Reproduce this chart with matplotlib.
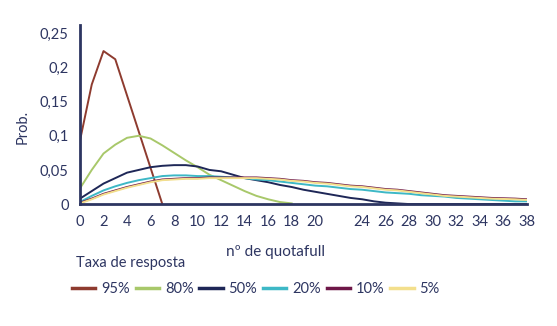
import matplotlib

matplotlib.use("Agg")
import matplotlib.pyplot as plt

plt.rcParams["font.family"] = ["Lato", "DejaVu Sans"]

# nº de quotafull (0..38) and probabilities per response rate
x = list(range(39))
p95 = [0.093, 0.175, 0.224, 0.212, 0.159, 0.106, 0.053, 0.0]
p80 = [0.023, 0.050, 0.074, 0.087, 0.097, 0.100, 0.096, 0.086, 0.075, 0.064,
       0.054, 0.043, 0.035, 0.027, 0.019, 0.012, 0.007, 0.003, 0.001]
p50 = [0.008, 0.019, 0.030, 0.038, 0.046, 0.050, 0.054, 0.056, 0.057, 0.057,
       0.055, 0.050, 0.048, 0.043, 0.038, 0.035, 0.032, 0.028, 0.025, 0.021,
       0.018, 0.015, 0.012, 0.009, 0.007, 0.004, 0.002, 0.001, 0.0, 0.0,
       0.0, 0.0, 0.0, 0.0, 0.0, 0.0, 0.0, 0.0, 0.0]
p20 = [0.003, 0.012, 0.020, 0.026, 0.031, 0.035, 0.038, 0.041, 0.042, 0.042,
       0.041, 0.041, 0.040, 0.039, 0.038, 0.036, 0.035, 0.033, 0.031, 0.029,
       0.027, 0.026, 0.024, 0.022, 0.021, 0.019, 0.017, 0.016, 0.015, 0.013,
       0.012, 0.011, 0.009, 0.008, 0.007, 0.006, 0.005, 0.004, 0.004]
p10 = [0.002, 0.008, 0.015, 0.020, 0.025, 0.029, 0.033, 0.036, 0.037, 0.038,
       0.038, 0.039, 0.039, 0.039, 0.039, 0.039, 0.038, 0.037, 0.035, 0.034,
       0.032, 0.031, 0.029, 0.027, 0.026, 0.024, 0.022, 0.021, 0.019, 0.017,
       0.015, 0.013, 0.012, 0.011, 0.010, 0.009, 0.0085, 0.008, 0.007]
p05 = [0.001, 0.007, 0.014, 0.019, 0.024, 0.028, 0.032, 0.035, 0.036, 0.037,
       0.037, 0.038, 0.038, 0.038, 0.038, 0.038, 0.037, 0.036, 0.034, 0.033,
       0.031, 0.030, 0.028, 0.026, 0.025, 0.023, 0.021, 0.020, 0.018, 0.016,
       0.014, 0.012, 0.011, 0.010, 0.009, 0.008, 0.0075, 0.007, 0.006]

series = [("95%", p95, "#8E3B2F"), ("80%", p80, "#A8C86A"),
          ("50%", p50, "#1E2757"), ("20%", p20, "#3DB8C6"),
          ("10%", p10, "#6E1748"), ("5%", p05, "#F3DF8C")]

xticks = [0, 2, 4, 6, 8, 10, 12, 14, 16, 18, 20, 24, 26, 28, 30, 32, 34, 36, 38]
yticks = [0, 0.05, 0.1, 0.15, 0.2, 0.25]

navy = "#2D3561"

fig = plt.figure(figsize=(5.57, 3.26), dpi=100)
ax = fig.add_axes([0.1436, 0.374, 0.8024, 0.549])

for name, vals, col in series:
    ax.plot(x[:len(vals)], vals, color=col, linewidth=1.4, label=name)

ax.set_xlim(0, 38)
ax.set_ylim(0, 0.262)
ax.set_xticks(xticks)
ax.set_xticklabels([str(v) for v in xticks])
ax.set_yticks(yticks)
ax.set_yticklabels([f"{v:g}".replace(".", ",") for v in yticks])
ax.tick_params(length=0, labelsize=10.5, colors=navy, pad=8)
for s in ["top", "right"]:
    ax.spines[s].set_visible(False)
for s in ["left", "bottom"]:
    ax.spines[s].set_color(navy)
    ax.spines[s].set_linewidth(2)

fig.text(23 / 557, 1 - 127 / 326, "Prob.", rotation=90, ha="center",
         va="center", fontsize=10.5, color=navy)
fig.text(275 / 557, 1 - 252 / 326, "nº de quotafull", ha="center",
         va="center", fontsize=11, color=navy)

leg = fig.legend(loc="upper left", bbox_to_anchor=(59 / 557, 1 - 243 / 326),
                 ncol=6, frameon=False, fontsize=10.5, title="Taxa de resposta",
                 title_fontsize=10.5, alignment="left", handlelength=1.6,
                 handletextpad=0.4, columnspacing=0.4, labelcolor=navy,
                 labelspacing=0.8)
leg.get_title().set_color(navy)
leg.get_title().set_position((4, 0))
for h in leg.get_lines():
    h.set_linewidth(2.5)

fig.savefig("out.png", dpi=100)
